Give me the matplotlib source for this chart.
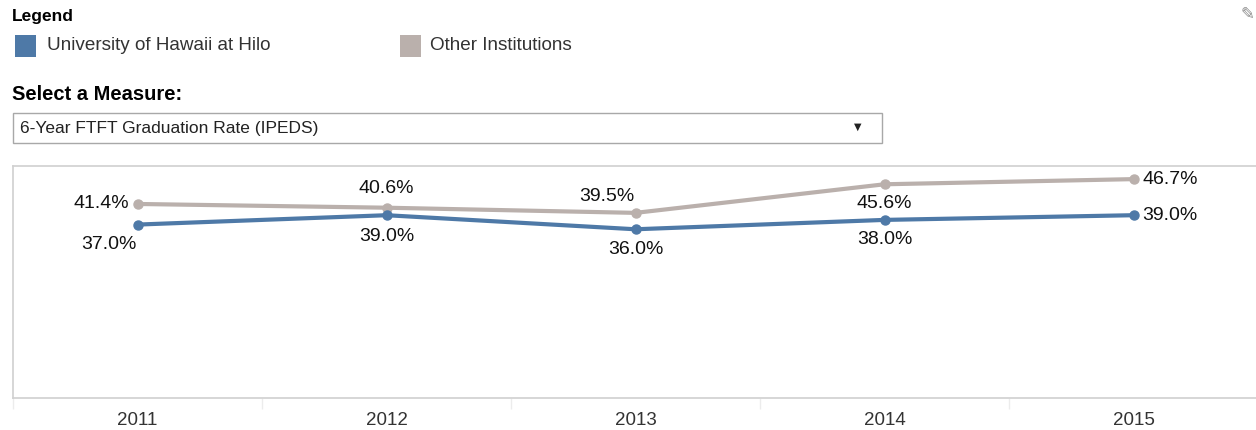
import matplotlib.pyplot as plt
from matplotlib.patches import Rectangle

# Data
years = ['2011', '2012', '2013', '2014', '2015']
uh_hilo = [37.0, 39.0, 36.0, 38.0, 39.0]
other = [41.4, 40.6, 39.5, 45.6, 46.7]

blue = '#4e79a7'
grey = '#bab0ac'

plt.rcParams['font.family'] = ['Liberation Sans', 'DejaVu Sans']

fig = plt.figure(figsize=(12.56, 4.30), dpi=100)
W, H = 1256, 430

def fx(px):
    return px / W

def fy(py):
    return 1 - py / H

# Legend + selector header
fig.text(fx(12), fy(16), 'Legend', fontsize=12.5, fontweight='bold', va='center', ha='left')
fig.patches.append(Rectangle((fx(15), fy(57)), 21 / W, 22 / H, transform=fig.transFigure,
                             facecolor=blue, edgecolor='none'))
fig.text(fx(47), fy(46), 'University of Hawaii at Hilo', fontsize=13.6, color='#333333',
         va='center', ha='left')
fig.patches.append(Rectangle((fx(400), fy(57)), 21 / W, 22 / H, transform=fig.transFigure,
                             facecolor=grey, edgecolor='none'))
fig.text(fx(430), fy(46), 'Other Institutions', fontsize=13.6, color='#333333',
         va='center', ha='left')

fig.text(fx(12), fy(94), 'Select a Measure:', fontsize=14.5, fontweight='bold', va='center', ha='left')
fig.patches.append(Rectangle((fx(13), fy(143)), 869 / W, 30 / H, transform=fig.transFigure,
                             facecolor='white', edgecolor='#a8a8a8', linewidth=1))
fig.text(fx(20), fy(128), '6-Year FTFT Graduation Rate (IPEDS)', fontsize=12.5, color='#222222',
         va='center', ha='left')
fig.text(fx(858), fy(127), '\u25BC', fontsize=7, color='#222222', va='center', ha='center',
         family='DejaVu Sans')
fig.text(fx(1247), fy(14), '\u270E', fontsize=12, color='#888888', va='center', ha='center',
         family='DejaVu Sans')

# Chart
ax = fig.add_axes([fx(13), fy(398), (1258 - 13) / W, (398 - 166) / H])
x = list(range(len(years)))
ax.plot(x, other, color=grey, linewidth=3, marker='o', markersize=6.5, zorder=3)
ax.plot(x, uh_hilo, color=blue, linewidth=3, marker='o', markersize=6.5, zorder=4)
ax.set_xlim(-0.5, len(years) - 0.5)
ax.set_ylim(0, 49.5)

ax.set_yticks([])
ax.set_xticks(x)
ax.set_xticklabels(years, fontsize=13.5, color='#333333')
ax.set_xticks([i - 0.5 for i in range(len(years) + 1)], minor=True)
ax.tick_params(axis='x', which='major', length=0, pad=10)
ax.tick_params(axis='x', which='minor', length=8, color='#ececec', width=1)

for side in ['left', 'top', 'bottom']:
    ax.spines[side].set_color('#d0d0d0')
    ax.spines[side].set_linewidth(1.2)
ax.spines['right'].set_visible(False)

lab = dict(fontsize=14, color='#111111', textcoords='offset points')
pt = 0.72  # px -> points at 100 dpi

# label offsets in pixels: (dx, dy, ha, va)
other_off = [(-8, 0, 'right', 'center'), (0, 19, 'center', 'center'), (-29, 16, 'center', 'center'),
             (0, -19, 'center', 'center'), (9, 0, 'left', 'center')]
uh_off = [(-1, -20, 'right', 'center'), (0, -21, 'center', 'center'), (0, -20, 'center', 'center'),
          (0, -20, 'center', 'center'), (9, 0, 'left', 'center')]

for i, v in enumerate(other):
    dx, dy, ha, va = other_off[i]
    ax.annotate(f'{v:.1f}%', (x[i], v), xytext=(dx * pt, dy * pt), ha=ha, va=va, **lab)
for i, v in enumerate(uh_hilo):
    dx, dy, ha, va = uh_off[i]
    ax.annotate(f'{v:.1f}%', (x[i], v), xytext=(dx * pt, dy * pt), ha=ha, va=va, **lab)

fig.savefig('out.png', dpi=100)
